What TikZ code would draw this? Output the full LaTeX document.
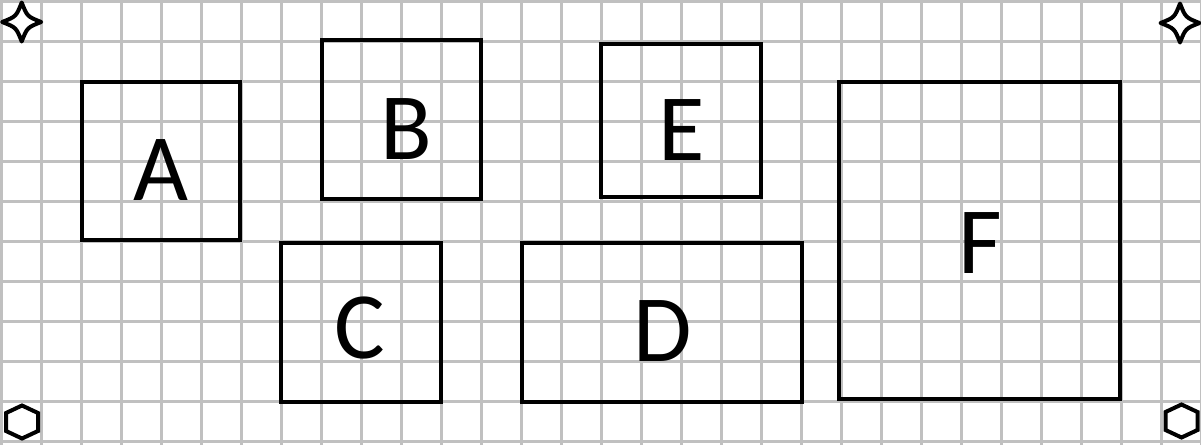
\documentclass[tikz,border=0pt]{standalone}
\usepackage{fontspec}
\setmainfont{Carlito}
\tikzset{
  gridline/.style={draw={rgb,255:red,192;green,192;blue,192},line width=2.6pt},
  box/.style={draw=black,line width=4pt,inner sep=0pt,fill=none},
  letter/.style={anchor=base,inner sep=0pt,font=\fontsize{95}{95}\selectfont},
  mark line/.style={draw=black,line width=4pt,fill=white},
  fourstar/.pic={\path[mark line,line join=round] (0,-19.5) .. controls (5.5,-5.5) .. (19.5,0) .. controls (5.5,5.5) .. (0,19.5) .. controls (-5.5,5.5) .. (-19.5,0) .. controls (-5.5,-5.5) .. cycle;},
  hexmark/.pic={\path[mark line,line join=miter] (0,-16.5) -- (16,-9) -- (16,9) -- (0,16.5) -- (-16,9) -- (-16,-9) -- cycle;}
}
\begin{document}
\begin{tikzpicture}[x=1pt,y=-1pt]
\useasboundingbox[fill=white] (0,0) rectangle (1201,445);
% grid
\foreach \k in {0,...,30} {\draw[gridline] ({1.5+40*\k},0) -- ({1.5+40*\k},445);}
\foreach \k in {0,...,11} {\draw[gridline] (0,{1.5+40*\k}) -- (1201,{1.5+40*\k});}
% boxes
\node[box,minimum width=158pt,minimum height=158pt] (boxA) at (161.4,160.5) {};
\node[box,minimum width=159pt,minimum height=159pt] (boxB) at (401.5,119.7) {};
\node[box,minimum width=160pt,minimum height=153pt] (boxE) at (681,120.5) {};
\node[box,minimum width=160pt,minimum height=159pt] (boxC) at (361,322.5) {};
\node[box,minimum width=280pt,minimum height=159pt] (boxD) at (661.7,322.2) {};
\node[box,minimum width=281pt,minimum height=317pt] (boxF) at (979.7,240) {};
% letters
\node[letter] (A) at (161,200) {A};
\node[letter] (B) at (406,159.5) {B};
\node[letter] (E) at (682,160) {E};
\node[letter] (C) at (360,358.5) {C};
\node[letter] (D) at (662.5,361) {D};
\node[letter] (F) at (980,273) {F};
% corner marks
\pic at (21.7,22) {fourstar};
\pic at (1180,23) {fourstar};
\pic at (22,422) {hexmark};
\pic at (1181.5,421) {hexmark};
\end{tikzpicture}
\end{document}
